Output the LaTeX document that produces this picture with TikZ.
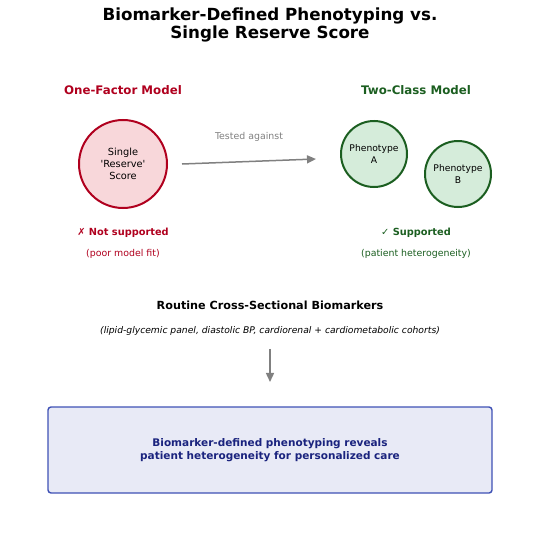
\documentclass[tikz,border=0pt]{standalone}
\usepackage{fontspec}
\setmainfont{DejaVu Sans}
\usetikzlibrary{arrows.meta}
\definecolor{oneRed}{HTML}{B0001E}
\definecolor{onePink}{HTML}{F8D7DA}
\definecolor{twoGreen}{HTML}{1B5E20}
\definecolor{twoFill}{HTML}{D5ECDA}
\definecolor{boxBlue}{HTML}{3F51B5}
\definecolor{boxFill}{HTML}{E8EAF6}
\definecolor{boxText}{HTML}{1A237E}
\tikzset{oneCircle/.style={circle, draw=oneRed, line width=2pt, fill=onePink, minimum size=88pt, inner sep=0pt, align=center, font=\fontsize{9.8}{12}\selectfont}}
\tikzset{twoCircle/.style={circle, draw=twoGreen, line width=2pt, fill=twoFill, minimum size=66pt, inner sep=0pt, align=center, font=\fontsize{9.2}{11.5}\selectfont}}
\tikzset{grayArrow/.style={draw=gray, line width=1.5pt, -{Triangle[length=9pt,width=8pt]}}}
\tikzset{resultBox/.style={draw=boxBlue, line width=1.4pt, fill=boxFill, rounded corners=3pt, minimum width=444pt, minimum height=86pt, align=center, text=boxText, font=\fontsize{10.5}{12.5}\selectfont\bfseries}}

\begin{document}
\begin{tikzpicture}[x=1pt, y=-1pt]
\useasboundingbox (0,0) rectangle (540,535);

\node[align=center, font=\fontsize{16.7}{17.5}\selectfont\bfseries] (title) at (270, 25) {Biomarker-Defined Phenotyping vs.\\Single Reserve Score};

% left side
\node[text=oneRed, font=\fontsize{11.8}{13}\selectfont\bfseries] (oneHead) at (123, 90) {One-Factor Model};
\node[oneCircle] (single) at (123, 164) {Single\\\textquotesingle Reserve\textquotesingle\\Score};
\node[text=oneRed, font=\fontsize{9.8}{11}\selectfont\bfseries] (notsup) at (123, 233) {✗ Not supported};
\node[text=oneRed, font=\fontsize{9.4}{11}\selectfont] (poorfit) at (123, 254) {(poor model fit)};

% right side
\node[text=twoGreen, font=\fontsize{11.8}{13}\selectfont\bfseries] (twoHead) at (416, 90) {Two-Class Model};
\node[twoCircle] (phenoA) at (374, 154) {Phenotype\\A};
\node[twoCircle] (phenoB) at (458, 174) {Phenotype\\B};
\node[text=twoGreen, font=\fontsize{9.8}{11}\selectfont\bfseries] (sup) at (416, 233) {✓ Supported};
\node[text=twoGreen, font=\fontsize{9.4}{11}\selectfont] (hetero) at (416, 254) {(patient heterogeneity)};

\coordinate (testEnd) at (316, 159);
\draw[grayArrow] (single.east) ++(14,0) -- (testEnd);
\node[text=gray, font=\fontsize{9.4}{11}\selectfont] (tested) at (249, 137) {Tested against};

% bottom
\node[font=\fontsize{11.2}{13}\selectfont\bfseries] (routine) at (270, 305) {Routine Cross-Sectional Biomarkers};
\node[font=\fontsize{9.2}{11}\selectfont\itshape] (cohorts) at (270, 331) {(lipid-glycemic panel, diastolic BP, cardiorenal + cardiometabolic cohorts)};
\node[resultBox] (result) at (270, 450) {Biomarker-defined phenotyping reveals\\patient heterogeneity for personalized care};

\draw[grayArrow] (cohorts.south) ++(0,10) -- ++(0,33);

\end{tikzpicture}
\end{document}
